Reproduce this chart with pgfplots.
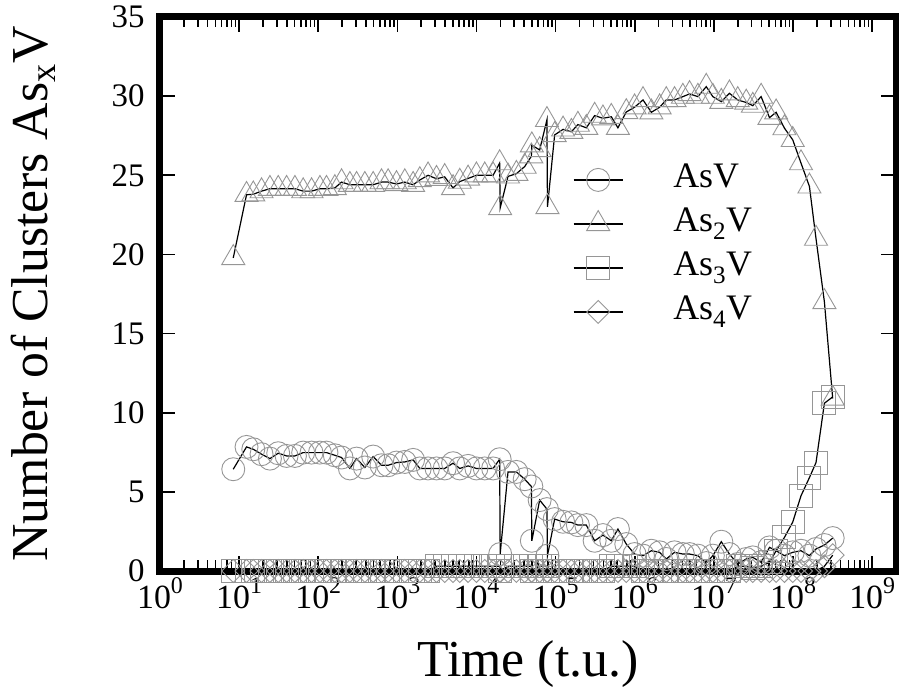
\documentclass[border=0pt]{standalone}
\usepackage{fontspec}
\setmainfont{Liberation Serif}
\usepackage{pgfplots}
\pgfplotsset{compat=1.18}
\usepackage{pgfplotstable}
\definecolor{markgray}{RGB}{150,150,150}
\newcommand{\tl}[1]{10\raisebox{0.45em}{\fontsize{24}{24}\selectfont #1}}

\pgfplotstableread{
t asv as2v as3v as4v
8.43 6.43 19.78 0 0
12.4 7.84 23.77 0 0
15.1 7.69 23.80 0 0
19.2 7.38 24.00 0 0
24.5 7.10 24.15 0 0
31.2 7.44 24.15 0 0
39.8 7.27 24.15 0 0
50.7 7.27 24.15 0 0
64.5 7.48 24.00 0 0
82.3 7.48 24.00 0 0
105 7.48 24.15 0 0
127 7.48 24.15 0 0
162 7.31 24.20 0 0
197 7.17 24.57 0 0
251 6.48 24.40 0 0
305 7.10 24.40 0 0
388 6.54 24.40 0 0
494 7.23 24.40 0 0
630 6.68 24.57 0 0
764 6.68 24.57 0 0
974 6.85 24.45 0 0
1240 6.89 24.57 0 0
1580 7.02 24.40 0 0
1920 6.48 24.70 0 0
2440 6.48 25.00 0 0
3120 6.48 24.78 0.3 0
3960 6.48 24.90 0.3 0
5050 6.81 24.20 0.3 0
6140 6.48 24.60 0.3 0
7820 6.64 24.80 0.3 0
9970 6.48 25.00 0.3 0
12700 6.48 25.00 0.3 0
16200 6.48 25.00 0.3 0
19600 7.06 25.77 0.3 0
19900 1.07 22.93 0 0
25000 6.26 24.93 0.3 0
31900 6.26 25.10 0.3 0
40600 5.80 25.55 0.3 0
49300 5.34 26.20 0.3 0
50000 1.91 26.90 0 0
62800 4.48 26.60 0.3 0
77600 3.91 28.50 0.3 0
78800 0.97 23.00 0 0
97100 3.28 27.55 0 0
124000 3.11 27.90 0 0
158000 3.07 27.75 0 0
191000 2.90 28.20 0 0
244000 2.90 28.00 0 0
311000 1.91 28.77 0 0
396000 2.27 28.60 0 0
505000 1.91 28.70 0.3 0
612000 2.65 28.00 0.3 0
781000 1.70 29.00 0.3 0
994000 1.07 29.30 0.3 0
1.27e6 0.97 29.76 0 0
1.62e6 1.28 28.98 0 0
2.06e6 1.18 29.30 0 0
2.50e6 0.76 29.76 0 0
3.18e6 1.18 29.76 0 0
4.05e6 1.07 29.97 0 0
4.92e6 1.07 30.14 0 0
6.27e6 0.97 29.97 0 0
8.00e6 0.50 30.60 0 0
9.69e6 0.97 29.97 0 0
1.24e7 1.85 29.65 0 0
1.57e7 1.07 30.18 0 0
2.00e7 0.44 29.76 0.3 0
2.56e7 0.76 29.60 0.3 0
3.10e7 0.86 29.40 0.2 0
3.95e7 0.55 29.97 0.3 0
5.04e7 1.49 28.64 0.55 0
6.11e7 1.28 28.98 1.28 0
7.78e7 0.97 27.98 2.12 0
9.91e7 1.18 27.24 3.09 0
1.26e8 1.28 25.77 4.75 0
1.61e8 0.97 24.30 5.90 0
1.95e8 1.39 21.00 6.85 0
2.49e8 1.64 17.00 10.6 0.3
3.17e8 2.08 10.90 11.0 1.0
}\data

\begin{document}
\begin{tikzpicture}
\begin{axis}[
  scale only axis,
  width=736bp, height=554bp,
  xmode=log, xmin=1, xmax=2e9,
  ymin=0, ymax=35,
  xtick={1,1e1,1e2,1e3,1e4,1e5,1e6,1e7,1e8,1e9},
  xticklabels={\tl{0},\tl{1},\tl{2},\tl{3},\tl{4},\tl{5},\tl{6},\tl{7},\tl{8},\tl{9}},
  minor xtick={2,3,4,5,6,7,8,9,
    20,30,40,50,60,70,80,90,
    200,300,400,500,600,700,800,900,
    2e3,3e3,4e3,5e3,6e3,7e3,8e3,9e3,
    2e4,3e4,4e4,5e4,6e4,7e4,8e4,9e4,
    2e5,3e5,4e5,5e5,6e5,7e5,8e5,9e5,
    2e6,3e6,4e6,5e6,6e6,7e6,8e6,9e6,
    2e7,3e7,4e7,5e7,6e7,7e7,8e7,9e7,
    2e8,3e8,4e8,5e8,6e8,7e8,8e8,9e8},
  ytick={0,5,10,15,20,25,30,35},
  minor ytick={},
  xticklabel style={font=\fontsize{34}{34}\selectfont, yshift=-3bp},
  yticklabel style={/pgf/number format/assume math mode=true, font=\fontsize{33}{33}\selectfont, xshift=-12bp},
  axis line style={line width=7bp},
  major tick length=15bp, minor tick length=10.5bp,
  every tick/.style={black, line width=1.6bp},
  clip=false,
  axis on top,
  xlabel={Time (t.u.)},
  ylabel={Number of Clusters As\textsubscript{x}V},
  label style={font=\fontsize{52}{52}\selectfont},
  xlabel style={at={(rel axis cs:0.5,-0.1913)}, anchor=base},
  ylabel style={at={(rel axis cs:-0.1535,0.5)}, anchor=base},
  legend style={draw=none, fill=none, inner sep=0pt, at={(rel axis cs:0.561,0.746)}, anchor=north west,
     font=\fontsize{36}{36}\selectfont, row sep=0pt,
     nodes={inner sep=4bp, text height=26bp, text depth=10bp},
     /tikz/every odd column/.append style={column sep=46bp}},
  legend cell align=left,
  legend image code/.code={\draw[mark repeat=2,mark phase=2,#1] plot coordinates {(0bp,0bp) (24.5bp,0bp) (49bp,0bp)};},
]
\addplot[black, line width=1.2bp, mark=o, mark size=11.5bp, mark options={draw=markgray, line width=0.9bp, solid}]
  table[x=t, y=asv]{\data};
\addlegendentry{AsV}
\addplot[black, line width=1.2bp, mark=triangle, mark size=13.3bp, mark options={draw=markgray, line width=0.9bp, solid}]
  table[x=t, y=as2v]{\data};
\addlegendentry{As\textsubscript{2}V}
\addplot[black, line width=1.2bp, mark=square, mark size=11.5bp, mark options={draw=markgray, line width=0.9bp, solid}]
  table[x=t, y=as3v]{\data};
\addlegendentry{As\textsubscript{3}V}
\addplot[black, line width=1.2bp, mark=square, mark size=8.1bp, mark options={draw=markgray, line width=0.9bp, solid, rotate=45}]
  table[x=t, y=as4v]{\data};
\addlegendentry{As\textsubscript{4}V}
\coordinate (LL) at (rel axis cs:0,0);
\coordinate (UR) at (rel axis cs:1,1);
\end{axis}
\pgfresetboundingbox
\path ([shift={(-160bp,-117bp)}]LL) rectangle ([shift={(3bp,17bp)}]UR);
\end{tikzpicture}
\end{document}
